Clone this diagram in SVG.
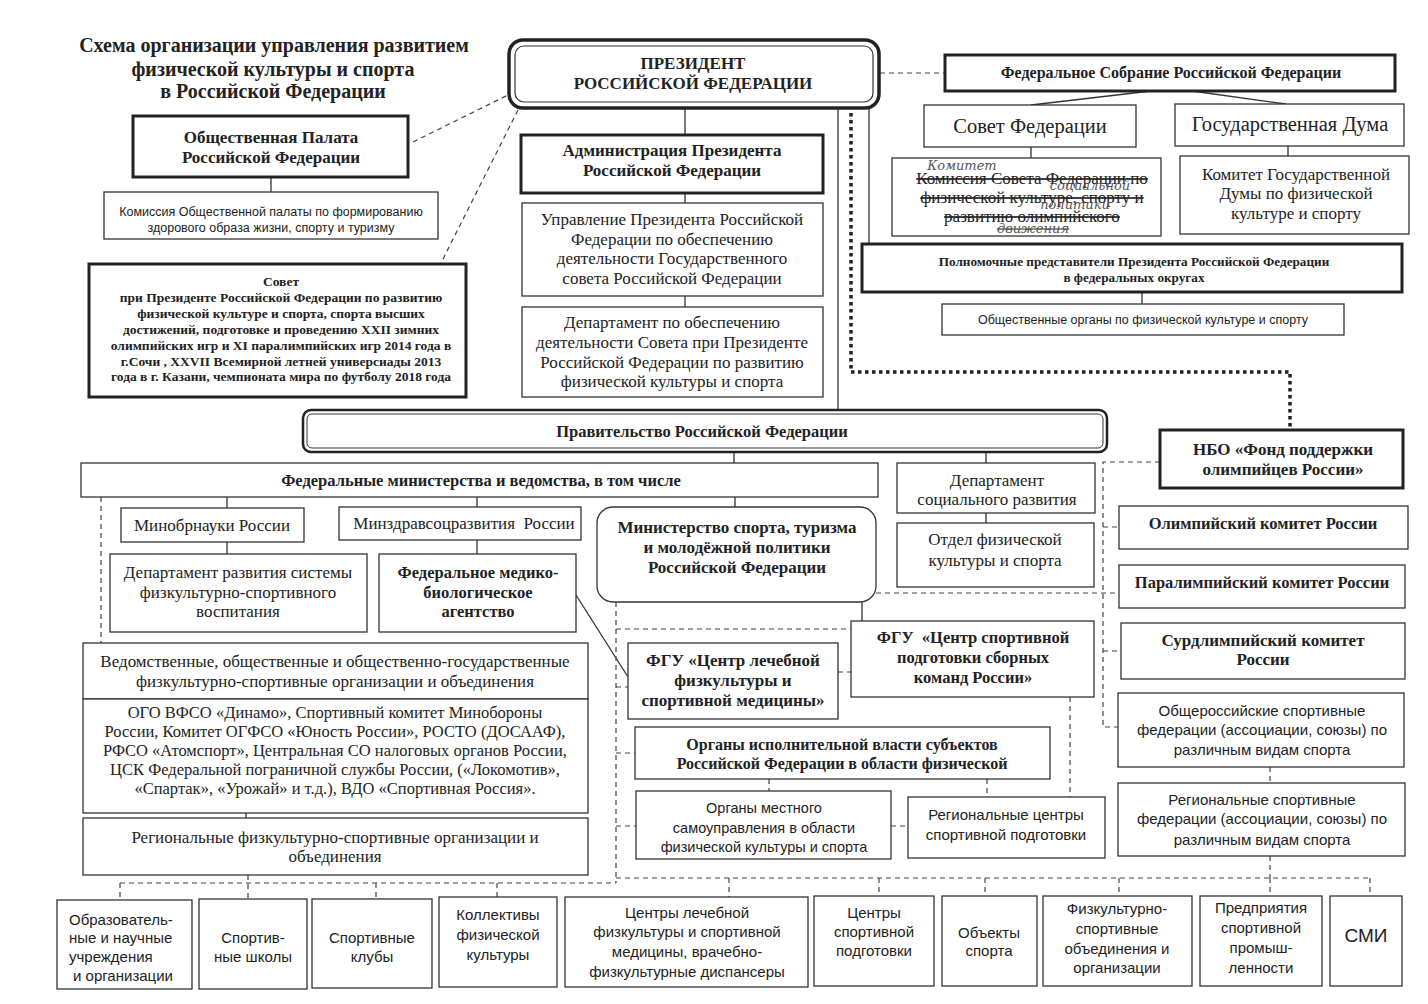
<svg xmlns="http://www.w3.org/2000/svg" width="1428" height="1004" viewBox="0 0 1428 1004">
<style>
.bx{fill:#fff;stroke:#333;stroke-width:1.3}
.bk{fill:#fff;stroke:#222;stroke-width:3}
.ln{fill:none;stroke:#333;stroke-width:1.3}
.ds{fill:none;stroke:#444;stroke-width:1.2;stroke-dasharray:5 4}
.dt{fill:none;stroke:#222;stroke-width:3.5;stroke-dasharray:3.5 3.5}
text{fill:#222;text-anchor:middle}
.r{font-family:"Liberation Serif","Times New Roman",serif;font-size:17px}
.b{font-family:"Liberation Serif","Times New Roman",serif;font-weight:bold;font-size:17px}
.s{font-family:"Liberation Sans",Arial,sans-serif;font-size:15px}
.hw{font-family:"DejaVu Serif",serif;font-style:italic;font-size:13px;fill:#555}
.st{text-decoration:line-through}
</style>
<rect width="1428" height="1004" fill="#fff"/>

<g id="connectors">
<path class="ln" d="M685,108V135M685,193V203M685,296V307M838,108V410M869,108V244M271,177V192M1151,91L1031,105M1192,91L1286,104M1031,147V158M1288,146V156M1142,292V304M734,452V463M986,452V463M986,513V523M227,497V508M227,542V554M477,497V507M477,540V554M735,497V507M862,602V621M576,595L628,677M246,813V818"/>
<path class="ds" d="M413,142L508,95M518,110L441,263M880,73H945M101,497V643M876,593H1119M1160,462H1103V727H1118M1103,527H1119M1103,651H1121M616,602V883M616,629H851M616,687H628M616,753H635M616,826H636M838,672H851M769,779V791M987,779V797M1070,697V797M891,826H908M1270,767V783M1270,856V878M120,883H616M616,878H1370M120,883V900M248,875V899M376,883V899M497,883V897M729,878V897M879,878V896M985,878V896M1119,878V896M1370,878V896M1270,878V896"/>
<path class="dt" d="M851,113V372H1290V430"/>
</g>

<g id="title">
<text class="b" style="font-size:20px" x="274" y="52">Схема организации управления развитием</text>
<text class="b" style="font-size:20px" x="273" y="76">физической культуры и спорта</text>
<text class="b" style="font-size:20px" x="273" y="98">в Российской Федерации</text>
</g>

<g id="president">
<rect x="509" y="40" width="370" height="68" rx="14" fill="#fff" stroke="#222" stroke-width="3.5"/>
<rect x="515" y="46" width="358" height="56" rx="9" fill="none" stroke="#333" stroke-width="1.2"/>
<text class="b" x="693" y="69">ПРЕЗИДЕНТ</text>
<text class="b" x="693" y="89">РОССИЙСКОЙ ФЕДЕРАЦИИ</text>
</g>

<g id="palata">
<rect class="bk" x="133" y="116" width="275" height="61"/>
<text class="b" x="271" y="143">Общественная Палата</text>
<text class="b" x="271" y="163">Российской Федерации</text>
</g>
<g id="komissiya-op">
<rect class="bx" x="104" y="192" width="334" height="47"/>
<text class="s" style="font-size:12.5px" x="271" y="216">Комиссия Общественной палаты по формированию</text>
<text class="s" style="font-size:12.5px" x="271" y="232">здорового образа жизни, спорту и туризму</text>
</g>

<g id="sovet">
<rect class="bk" x="89" y="264" width="377" height="133"/>
<g class="b" style="font-size:13.5px">
<text x="281" y="286">Совет</text>
<text x="281" y="302">при Президенте Российской Федерации по развитию</text>
<text x="281" y="318">физической культуре и спорта, спорта высших</text>
<text x="281" y="334">достижений, подготовке и проведению XXII зимних</text>
<text x="281" y="350">олимпийских игр и XI паралимпийских игр 2014 года в</text>
<text x="281" y="366">г.Сочи , XXVII Всемирной летней универсиады 2013</text>
<text x="281" y="381">года в г. Казани, чемпионата мира по футболу 2018 года</text>
</g>
</g>

<g id="admin">
<rect class="bk" x="521" y="135" width="302" height="58"/>
<text class="b" x="672" y="156">Администрация Президента</text>
<text class="b" x="672" y="176">Российской Федерации</text>
</g>
<g id="upravlenie">
<rect class="bx" x="522" y="203" width="301" height="93"/>
<text class="r" x="672" y="225">Управление Президента Российской</text>
<text class="r" x="672" y="245">Федерации по обеспечению</text>
<text class="r" x="672" y="264">деятельности Государственного</text>
<text class="r" x="672" y="284">совета Российской Федерации</text>
</g>
<g id="departament-sovet">
<rect class="bx" x="522" y="307" width="301" height="90"/>
<text class="r" x="672" y="328">Департамент по обеспечению</text>
<text class="r" x="672" y="348">деятельности Совета при Президенте</text>
<text class="r" x="672" y="368">Российской Федерации по развитию</text>
<text class="r" x="672" y="387">физической культуры и спорта</text>
</g>

<g id="fed-sobranie">
<rect class="bk" x="945" y="55" width="450" height="36"/>
<text class="b" style="font-size:16px" x="1171" y="78">Федеральное Собрание Российской Федерации</text>
</g>
<g id="sovet-federacii">
<rect class="bx" x="924" y="105" width="212" height="42"/>
<text class="r" style="font-size:20.5px" x="1030" y="133">Совет Федерации</text>
</g>
<g id="gosduma">
<rect class="bx" x="1175" y="104" width="229" height="42"/>
<text class="r" style="font-size:20.5px" x="1290" y="131">Государственная Дума</text>
</g>
<g id="komissiya-sf">
<rect class="bx" x="892" y="158" width="269" height="78"/>
<text class="r st" x="1032" y="184">Комиссия Совета Федерации по</text>
<text class="r st" x="1032" y="203">физической культуре, спорту и</text>
<text class="r st" x="1032" y="222">развитию олимпийского</text>
<text class="hw" x="962" y="170">Комитет</text>
<text class="hw" x="1090" y="190">социальной</text>
<text class="hw" x="1075" y="209">политики</text>
<text class="hw st" x="1033" y="233">движения</text>
</g>
<g id="komitet-gd">
<rect class="bx" x="1180" y="156" width="229" height="78"/>
<text class="r" x="1296" y="180">Комитет Государственной</text>
<text class="r" x="1296" y="199">Думы по физической</text>
<text class="r" x="1296" y="219">культуре и спорту</text>
</g>
<g id="polpred">
<rect class="bk" x="862" y="244" width="540" height="48"/>
<text class="b" style="font-size:13.2px" x="1134" y="266">Полномочные представители Президента Российской Федерации</text>
<text class="b" style="font-size:13.2px" x="1134" y="282">в федеральных округах</text>
</g>
<g id="obsch-organy">
<rect class="bx" x="942" y="304" width="402" height="31"/>
<text class="s" style="font-size:12.5px" x="1143" y="324">Общественные органы по физической культуре и спорту</text>
</g>

<g id="pravitelstvo">
<rect x="303" y="410" width="804" height="42" rx="8" fill="#fff" stroke="#222" stroke-width="2.5"/>
<rect x="307" y="414" width="796" height="34" rx="5" fill="none" stroke="#333" stroke-width="1"/>
<text class="b" style="font-size:16.5px" x="702" y="437">Правительство Российской Федерации</text>
</g>

<g id="fed-min">
<rect class="bx" x="81" y="463" width="797" height="34"/>
<text class="b" style="font-size:16.5px" x="481" y="486">Федеральные министерства и ведомства, в том числе</text>
</g>
<g id="minobrnauki">
<rect class="bx" x="121" y="508" width="183" height="34"/>
<text class="r" x="212" y="531">Минобрнауки России</text>
</g>
<g id="minzdrav">
<rect class="bx" x="339" y="507" width="242" height="33"/>
<text class="r" style="white-space:pre" x="464" y="529">Минздравсоцразвития  России</text>
</g>
<g id="dep-razvitiya">
<rect class="bx" x="110" y="554" width="257" height="78"/>
<text class="r" x="238" y="578">Департамент развития системы</text>
<text class="r" x="238" y="598">физкультурно-спортивного</text>
<text class="r" x="238" y="617">воспитания</text>
</g>
<g id="fmba">
<rect class="bx" x="379" y="554" width="197" height="78"/>
<text class="b" style="font-size:16.5px" x="478" y="578">Федеральное медико-</text>
<text class="b" style="font-size:16.5px" x="478" y="598">биологическое</text>
<text class="b" style="font-size:16.5px" x="478" y="617">агентство</text>
</g>
<g id="minsport">
<rect class="bx" x="597" y="507" width="279" height="95" rx="16"/>
<text class="b" x="737" y="533">Министерство спорта, туризма</text>
<text class="b" x="737" y="553">и молодёжной политики</text>
<text class="b" x="737" y="573">Российской Федерации</text>
</g>
<g id="dep-soc">
<rect class="bx" x="897" y="463" width="198" height="50"/>
<text class="r" x="997" y="486">Департамент</text>
<text class="r" x="997" y="505">социального развития</text>
</g>
<g id="otdel">
<rect class="bx" x="897" y="523" width="197" height="64"/>
<text class="r" x="995" y="545">Отдел физической</text>
<text class="r" x="995" y="566">культуры и спорта</text>
</g>

<g id="nbo">
<rect class="bk" x="1160" y="430" width="243" height="58"/>
<text class="b" x="1283" y="455">НБО «Фонд поддержки</text>
<text class="b" x="1283" y="475">олимпийцев России»</text>
</g>
<g id="okr">
<rect class="bx" x="1119" y="506" width="289" height="43"/>
<text class="b" style="font-size:16.5px" x="1263" y="529">Олимпийский комитет России</text>
</g>
<g id="pkr">
<rect class="bx" x="1119" y="565" width="286" height="43"/>
<text class="b" style="font-size:16.5px" x="1262" y="588">Паралимпийский комитет России</text>
</g>
<g id="skr">
<rect class="bx" x="1121" y="623" width="284" height="56"/>
<text class="b" x="1263" y="646">Сурдлимпийский комитет</text>
<text class="b" x="1263" y="665">России</text>
</g>
<g id="obschros-fed">
<rect class="bx" x="1118" y="693" width="286" height="74"/>
<text class="s" x="1262" y="716">Общероссийские спортивные</text>
<text class="s" x="1262" y="735">федерации (ассоциации, союзы) по</text>
<text class="s" x="1262" y="755">различным видам спорта</text>
</g>
<g id="region-fed">
<rect class="bx" x="1118" y="783" width="287" height="73"/>
<text class="s" x="1262" y="805">Региональные спортивные</text>
<text class="s" x="1262" y="824">федерации (ассоциации, союзы) по</text>
<text class="s" x="1262" y="845">различным видам спорта</text>
</g>

<g id="fgu-csp">
<rect class="bx" x="851" y="621" width="243" height="76"/>
<text class="b" style="font-size:16.5px;white-space:pre" x="973" y="643">ФГУ  «Центр спортивной</text>
<text class="b" style="font-size:16.5px" x="973" y="663">подготовки сборных</text>
<text class="b" style="font-size:16.5px" x="973" y="683">команд России»</text>
</g>
<g id="fgu-lfk">
<rect class="bx" x="628" y="643" width="210" height="76"/>
<text class="b" x="733" y="666">ФГУ «Центр лечебной</text>
<text class="b" x="733" y="686">физкультуры и</text>
<text class="b" x="733" y="706">спортивной медицины»</text>
</g>
<g id="organy-isp">
<rect class="bx" x="635" y="727" width="415" height="52"/>
<text class="b" style="font-size:16px" x="842" y="750">Органы исполнительной власти субъектов</text>
<text class="b" style="font-size:16px" x="842" y="769">Российской Федерации в области физической</text>
</g>
<g id="organy-mest">
<rect class="bx" x="636" y="791" width="255" height="68"/>
<text class="s" style="font-size:14.5px" x="764" y="813">Органы местного</text>
<text class="s" style="font-size:14.5px" x="764" y="833">самоуправления в области</text>
<text class="s" style="font-size:14.5px" x="764" y="852">физической культуры и спорта</text>
</g>
<g id="reg-centry">
<rect class="bx" x="908" y="797" width="197" height="61"/>
<text class="s" x="1006" y="820">Региональные центры</text>
<text class="s" x="1006" y="840">спортивной подготовки</text>
</g>

<g id="vedomstv">
<rect class="bx" x="83" y="643" width="505" height="56"/>
<text class="r" x="335" y="667">Ведомственные, общественные и общественно-государственные</text>
<text class="r" x="335" y="687">физкультурно-спортивные организации и объединения</text>
</g>
<g id="ogo">
<rect class="bx" x="83" y="699" width="505" height="114"/>
<text class="r" style="font-size:16.5px" x="335" y="718">ОГО ВФСО «Динамо», Спортивный комитет Минобороны</text>
<text class="r" style="font-size:16.5px" x="335" y="737">России, Комитет ОГФСО «Юность России», РОСТО (ДОСААФ),</text>
<text class="r" style="font-size:16.5px" x="335" y="756">РФСО «Атомспорт», Центральная СО налоговых органов России,</text>
<text class="r" style="font-size:16.5px" x="335" y="775">ЦСК Федеральной пограничной службы России, («Локомотив»,</text>
<text class="r" style="font-size:16.5px" x="335" y="794">«Спартак», «Урожай» и т.д.), ВДО «Спортивная Россия».</text>
</g>
<g id="region-fso">
<rect class="bx" x="83" y="818" width="505" height="57"/>
<text class="r" x="335" y="843">Региональные физкультурно-спортивные организации и</text>
<text class="r" x="335" y="862">объединения</text>
</g>

<g id="b-obr">
<rect class="bx" x="57" y="900" width="135" height="89"/>
<text class="s" style="text-anchor:start" x="69" y="925">Образователь-</text>
<text class="s" style="text-anchor:start" x="69" y="943">ные и научные</text>
<text class="s" style="text-anchor:start" x="69" y="962">учреждения</text>
<text class="s" style="text-anchor:start" x="73" y="981">и организации</text>
</g>
<g id="b-shkoly">
<rect class="bx" x="199" y="899" width="108" height="90"/>
<text class="s" x="253" y="943">Спортив-</text>
<text class="s" x="253" y="962">ные школы</text>
</g>
<g id="b-kluby">
<rect class="bx" x="312" y="899" width="120" height="89"/>
<text class="s" x="372" y="943">Спортивные</text>
<text class="s" x="372" y="962">клубы</text>
</g>
<g id="b-kollektivy">
<rect class="bx" x="439" y="897" width="118" height="90"/>
<text class="s" x="498" y="920">Коллективы</text>
<text class="s" x="498" y="940">физической</text>
<text class="s" x="498" y="960">культуры</text>
</g>
<g id="b-lfk">
<rect class="bx" x="565" y="897" width="243" height="90"/>
<text class="s" x="687" y="918">Центры лечебной</text>
<text class="s" x="687" y="937">физкультуры и спортивной</text>
<text class="s" x="687" y="957">медицины, врачебно-</text>
<text class="s" x="687" y="977">физкультурные диспансеры</text>
</g>
<g id="b-csp">
<rect class="bx" x="814" y="896" width="120" height="90"/>
<text class="s" x="874" y="918">Центры</text>
<text class="s" x="874" y="937">спортивной</text>
<text class="s" x="874" y="956">подготовки</text>
</g>
<g id="b-obekty">
<rect class="bx" x="942" y="896" width="95" height="90"/>
<text class="s" x="989" y="938">Объекты</text>
<text class="s" x="989" y="956">спорта</text>
</g>
<g id="b-fso">
<rect class="bx" x="1043" y="896" width="149" height="90"/>
<text class="s" x="1117" y="914">Физкультурно-</text>
<text class="s" x="1117" y="934">спортивные</text>
<text class="s" x="1117" y="954">объединения и</text>
<text class="s" x="1117" y="973">организации</text>
</g>
<g id="b-prom">
<rect class="bx" x="1200" y="896" width="122" height="90"/>
<text class="s" x="1261" y="913">Предприятия</text>
<text class="s" x="1261" y="933">спортивной</text>
<text class="s" x="1261" y="953">промыш-</text>
<text class="s" x="1261" y="973">ленности</text>
</g>
<g id="b-smi">
<rect class="bx" x="1330" y="896" width="72" height="90"/>
<text class="s" style="font-size:19px" x="1366" y="942">СМИ</text>
</g>
</svg>
